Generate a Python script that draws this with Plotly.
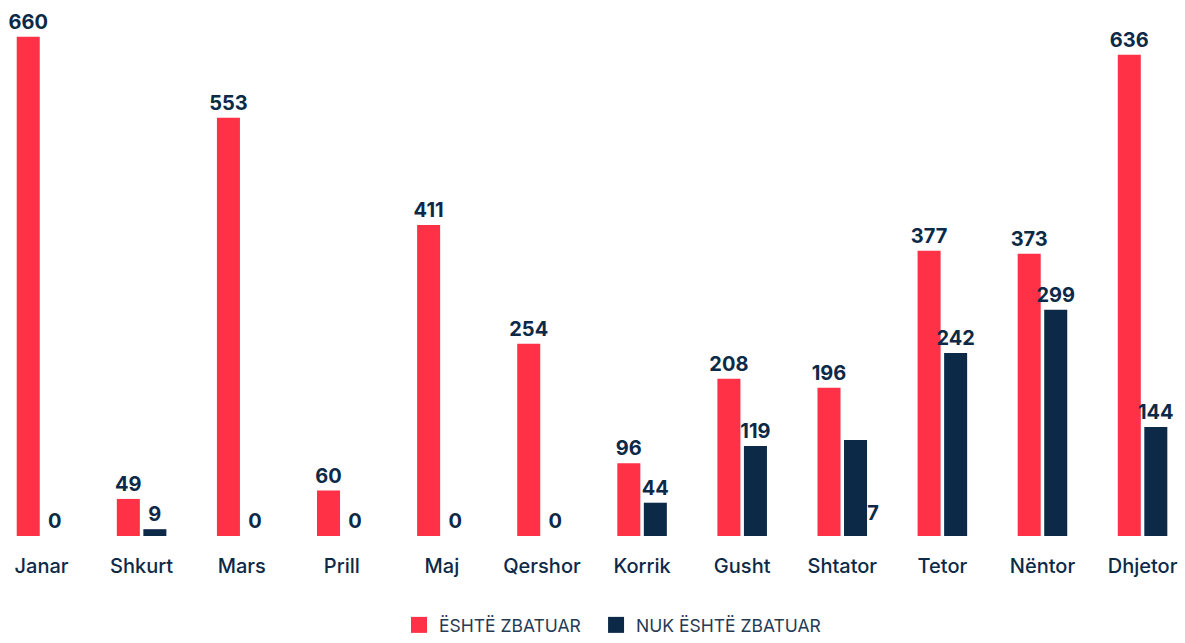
import plotly.graph_objects as go

months = ["Janar", "Shkurt", "Mars", "Prill", "Maj", "Qershor",
          "Korrik", "Gusht", "Shtator", "Tetor", "Nëntor", "Dhjetor"]
implemented = [660, 49, 553, 60, 411, 254, 96, 208, 196, 377, 373, 636]
not_implemented = [0, 9, 0, 0, 0, 0, 44, 119, 127, 242, 299, 144]

series_names = ["ËSHTË ZBATUAR", "NUK ËSHTË ZBATUAR"]

RED = "#ff3146"
NAVY = "#0c2a48"
FONT = "Inter, 'Noto Sans', sans-serif"
LABEL_FONT = dict(family=FONT, size=20, color=NAVY, weight="bold")

# the Shtator label is drawn separately, at the foot of its bar
LOW_LABEL = "Shtator"
dark_text = ["" if m == LOW_LABEL else str(v) for m, v in zip(months, not_implemented)]

fig = go.Figure()
for name, values, text, color, legend_id in [
    (series_names[0], implemented, [str(v) for v in implemented], RED, "legend"),
    (series_names[1], not_implemented, dark_text, NAVY, "legend2"),
]:
    fig.add_trace(go.Bar(
        x=months, y=values, name=name, legendgroup=name, showlegend=False,
        marker=dict(color=color, line=dict(width=0)),
        text=text, textposition="outside", textangle=0, constraintext="none",
        textfont=LABEL_FONT, cliponaxis=False, hoverinfo="x+y",
    ))
    # square legend swatch
    fig.add_trace(go.Scatter(
        x=[None], y=[None], mode="markers", name=name, legendgroup=name,
        legend=legend_id,
        marker=dict(symbol="square", size=16, color=color, line=dict(width=0)),
        hoverinfo="skip",
    ))

low_idx = months.index(LOW_LABEL)
fig.add_annotation(
    x=LOW_LABEL, y=0, xref="x", yref="y",
    text=str(not_implemented[low_idx]), showarrow=False,
    xshift=20, yshift=23, yanchor="middle", xanchor="center",
    font=LABEL_FONT,
)

legend_style = dict(orientation="h", xanchor="left",
                    yref="container", y=0.0, yanchor="bottom",
                    font=dict(family=FONT, size=17.5, color="#253a55"),
                    itemsizing="trace", itemwidth=30)

fig.update_layout(
    width=1185, height=643,
    margin=dict(l=0, r=0, t=0, b=107, autoexpand=False),
    paper_bgcolor="white", plot_bgcolor="white",
    barmode="group", bargap=0.47, bargroupgap=0.132,
    showlegend=True,
    legend=dict(x=0.3367, **legend_style),
    legend2=dict(x=0.503, **legend_style),
    font=dict(family=FONT, color=NAVY),
)
fig.update_xaxes(
    type="category", range=[-0.4146, 11.424], automargin=False,
    showgrid=False, zeroline=False, showline=False,
    ticks="outside", ticklen=12, tickcolor="rgba(0,0,0,0)",
    tickfont=dict(family=FONT, size=20, color=NAVY, weight=500),
)
fig.update_yaxes(
    range=[0, 708.5], visible=False, showgrid=False, zeroline=False,
)

fig.write_html("out.html")
